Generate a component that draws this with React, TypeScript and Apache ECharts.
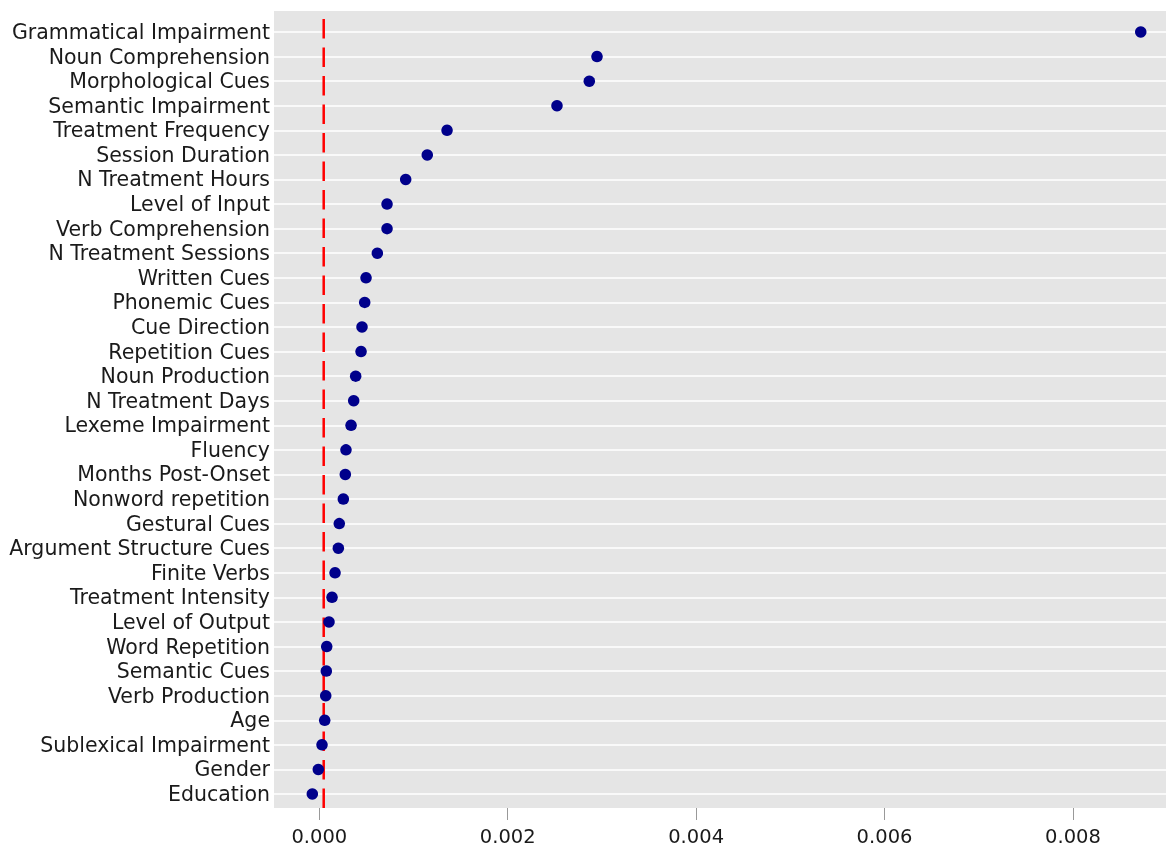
import React, { useEffect, useRef } from "react";
import * as echarts from "echarts";

const categories = [
  "Grammatical Impairment",
  "Noun Comprehension",
  "Morphological Cues",
  "Semantic Impairment",
  "Treatment Frequency",
  "Session Duration",
  "N Treatment Hours",
  "Level of Input",
  "Verb Comprehension",
  "N Treatment Sessions",
  "Written Cues",
  "Phonemic Cues",
  "Cue Direction",
  "Repetition Cues",
  "Noun Production",
  "N Treatment Days",
  "Lexeme Impairment",
  "Fluency",
  "Months Post-Onset",
  "Nonword repetition",
  "Gestural Cues",
  "Argument Structure Cues",
  "Finite Verbs",
  "Treatment Intensity",
  "Level of Output",
  "Word Repetition",
  "Semantic Cues",
  "Verb Production",
  "Age",
  "Sublexical Impairment",
  "Gender",
  "Education",
];

const importance = [
  0.00872, 0.002948, 0.002866, 0.002523, 0.001356, 0.001146, 0.000917,
  0.000719, 0.000719, 0.000616, 0.000496, 0.000482, 0.000453, 0.000443,
  0.000386, 0.000365, 0.000337, 0.000283, 0.000276, 0.000255, 0.000212,
  0.000202, 0.000167, 0.000135, 0.000103, 0.0000786, 0.0000743, 0.0000679,
  0.0000573, 0.0000287, -0.0000106, -0.0000743,
];

const referenceValue = 0.0000467;

const xTicks = [0, 0.002, 0.004, 0.006, 0.008];
const xMin = -0.000481;
const xMax = 0.008988;

const PLOT_LEFT = 274;
const PLOT_TOP = 11;
const PLOT_BOTTOM = 808;
const PLOT_RIGHT = 1166;

export default function App() {
  const ref = useRef<HTMLDivElement>(null);

  useEffect(() => {
    document.body.style.margin = "0";
    if (!ref.current) return;
    const chart = echarts.init(ref.current, null, { renderer: "svg" });
    const font = "DejaVu Sans";
    chart.setOption({
      animation: false,
      textStyle: { fontFamily: font },
      graphic: [
        {
          type: "rect",
          z: -100,
          silent: true,
          shape: {
            x: PLOT_LEFT,
            y: PLOT_TOP,
            width: PLOT_RIGHT - PLOT_LEFT,
            height: PLOT_BOTTOM - PLOT_TOP,
          },
          style: { fill: "#e5e5e5" },
        },
      ],
      grid: {
        left: PLOT_LEFT,
        right: 0,
        top: 32,
        bottom: 848 - 794,
        containLabel: false,
      },
      xAxis: {
        type: "value",
        min: xMin,
        max: xMax,
        offset: PLOT_BOTTOM - 794,
        axisLine: { show: false },
        splitLine: { show: false },
        axisTick: {
          show: true,
          length: 12,
          customValues: xTicks,
          lineStyle: { color: "#999999", width: 1 },
        },
        axisLabel: {
          customValues: xTicks,
          margin: 18,
          fontSize: 19.5,
          fontFamily: font,
          color: "#1a1a1a",
          formatter: (v: number) => v.toFixed(3),
        },
      },
      yAxis: {
        type: "category",
        data: categories,
        inverse: true,
        boundaryGap: false,
        axisLine: { show: false },
        axisTick: { show: false },
        splitLine: { show: true, lineStyle: { color: "#ffffff", width: 1.7 } },
        axisLabel: {
          margin: 4,
          fontSize: 20.5,
          fontFamily: font,
          color: "#1a1a1a",
          interval: 0,
        },
      },
      series: [
        {
          type: "custom",
          z: 3,
          clip: false,
          data: [[referenceValue, 0]],
          renderItem: (params: any, api: any) => {
            const x = api.coord([api.value(0), 0])[0];
            return {
              type: "line",
              shape: { x1: x, y1: PLOT_BOTTOM, x2: x, y2: PLOT_TOP },
              style: {
                stroke: "#ff0000",
                lineWidth: 2.5,
                lineDash: [19.5, 9],
                lineCap: "butt",
              },
            };
          },
        },
        {
          type: "scatter",
          z: 4,
          symbolSize: 11.5,
          clip: false,
          itemStyle: { color: "#00008b", opacity: 1 },
          data: importance.map((v, i) => [v, categories[i]]),
        },
      ],
    });
    return () => chart.dispose();
  }, []);

  return (
    <div
      ref={ref}
      style={{ position: "fixed", left: 0, top: 0, width: 1166, height: 848 }}
    />
  );
}
